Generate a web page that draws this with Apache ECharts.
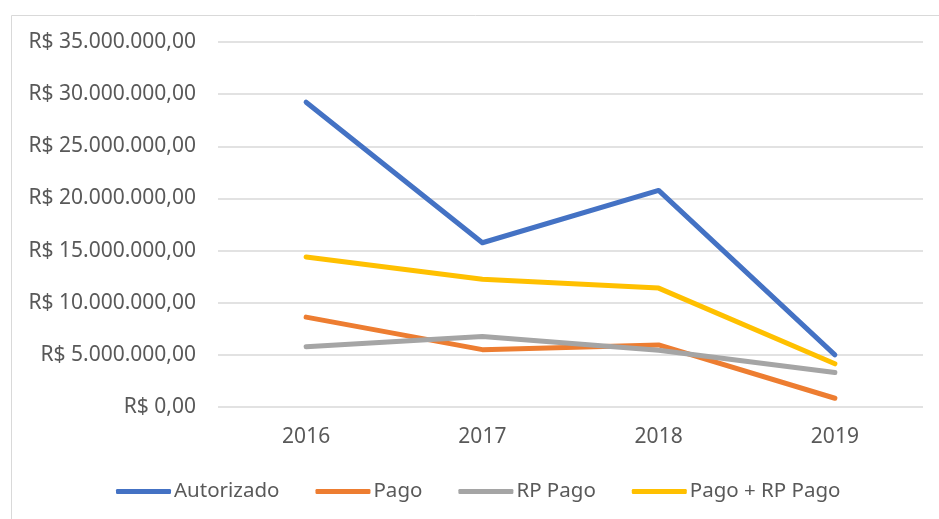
<!DOCTYPE html>
<html>
<head>
<meta charset="utf-8">
<script src="https://cdn.jsdelivr.net/npm/echarts@6/dist/echarts.min.js"></script>
<style>
html, body { margin: 0; padding: 0; background: #fff; }
#chart { width: 939px; height: 519px; }
</style>
</head>
<body>
<div id="chart"></div>
<script>
// dados
var anos = ['2016', '2017', '2018', '2019'];
var autorizado = [29230000, 15750000, 20770000, 5000000];
var pago = [8620000, 5500000, 5950000, 840000];
var rpPago = [5770000, 6750000, 5450000, 3300000];
var pagoMaisRp = [14390000, 12250000, 11400000, 4140000];

function formatReal(v) {
  var inteiro = Math.round(v).toString().replace(/\B(?=(\d{3})+(?!\d))/g, '.');
  return 'R$ ' + inteiro + ',00';
}

var fonte = '"Noto Sans", sans-serif';
var chart = echarts.init(document.getElementById('chart'));

function serie(nome, dados, cor) {
  return {
    name: nome,
    type: 'line',
    data: dados,
    symbol: 'none',
    smooth: false,
    lineStyle: { width: 5, color: cor, cap: 'round', join: 'round' },
    itemStyle: { color: cor }
  };
}

chart.setOption({
  animation: false,
  graphic: [{
    type: 'rect',
    left: 9,
    top: 13,
    shape: { width: 1000, height: 1000 },
    style: { fill: 'none', stroke: '#d9d9d9', lineWidth: 1 },
    silent: true
  }],
  grid: { left: 218, right: 16, top: 42, bottom: 112 },
  xAxis: {
    type: 'category',
    data: anos,
    boundaryGap: true,
    axisLine: { show: false },
    axisTick: { show: false },
    axisLabel: { color: '#595959', fontFamily: fonte, fontSize: 21, margin: 20 }
  },
  yAxis: {
    type: 'value',
    min: 0,
    max: 35000000,
    interval: 5000000,
    axisLine: { show: false },
    axisTick: { show: false },
    splitLine: { lineStyle: { color: '#d9d9d9', width: 1.5 } },
    axisLabel: {
      color: '#595959', fontFamily: fonte, fontSize: 21, margin: 22,
      formatter: formatReal
    }
  },
  legend: {
    left: 111,
    top: 476,
    itemWidth: 55,
    itemHeight: 5,
    itemGap: 36,
    icon: 'roundRect',
    textStyle: { color: '#595959', fontFamily: fonte, fontSize: 20.5, padding: [0, 0, 0, -2] },
    data: ['Autorizado', 'Pago', 'RP Pago', 'Pago + RP Pago']
  },
  series: [
    serie('Autorizado', autorizado, '#4472c4'),
    serie('Pago', pago, '#ed7d31'),
    serie('RP Pago', rpPago, '#a5a5a5'),
    serie('Pago + RP Pago', pagoMaisRp, '#ffc000')
  ]
});
</script>
</body>
</html>
